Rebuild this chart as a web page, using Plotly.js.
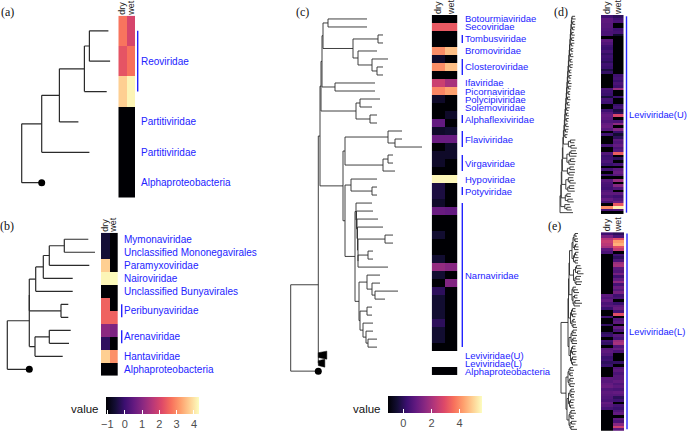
<!DOCTYPE html>
<html>
<head>
<meta charset="utf-8">
<script src="https://cdn.plot.ly/plotly-3.0.1.min.js"></script>
<style>
  html, body { margin: 0; padding: 0; background: #fff; }
  #chart { width: 687px; height: 433px; }
</style>
</head>
<body>
<div id="chart"></div>
<script>
const W = 687, H = 433;

// ---------- data ----------
const conditions = ['dry', 'wet'];

// (a) Reoviridae / Partitiviridae
const treeA = '(((((:19,:20.7):5,:22.3):25,:19):17.7,:47.7):20,o:20);';
const dryA = [2.73, 2.3, 3.75, -1.08, -1.08, -1.08];
const wetA = [2.03, 2.68, 4.18, -1.08, -1.08, -1.08];
const labelsA = [['Reoviridae', 1, 3], ['Partitiviridae', 4, 4], ['Partitiviridae', 5, 5],
  ['Alphaproteobacteria', 6, 6]];

// (b) negative-strand families
const treeB = '(((((((:24,:30.7):15,:40):6,:29.4):7.6,:37):6.4,(:7.3,:7.3):31.7):0,((:21.4,:19.7):14.3,:27.7):5.7):22,o:22);';
const dryB = [-0.54, -0.54, 3.75, 4.2, -1.08, 2.5, 2.5, 1.07, -0.17, 3.75, -1.08];
const wetB = [-1.08, -1.08, -1.08, 4.25, -1.08, -1.08, 2.5, 0.85, -1.08, 3.05, -1.08];
const labelsB = [['Mymonaviridae', 1, 1], ['Unclassified Mononegavirales', 2, 2],
  ['Paramyxoviridae', 3, 3], ['Nairoviridae', 4, 4], ['Unclassified Bunyavirales', 5, 5],
  ['Peribunyaviridae', 6, 7], ['Arenaviridae', 8, 9], ['Hantaviridae', 10, 10],
  ['Alphaproteobacteria', 11, 11]];

// (c) positive-strand families, built from clades (branch lengths)
const cA1 = '(:39,:39)';
const cA2 = '((:5,:5):25,(:19,(:16,(:6,:6):5):14):5)';
const cA3 = '(:40,:40)';
const cA4 = '((:20,:12):4,(:7,:7):14)';
const cFlavi = '(:14,(:7,:27):7)';
const cVirga = '((:5,:5):5,:12)';
const cHypo = '(:26,(:5,:5):21)';
const cNarnaU = '(:16,(:16.5,(:21,(:25.5,((:8,:8):27,((:5,:5):10,:30):0):0.5):0.5):0.5):0.5)';
const cNarnaL = '((:13,(:8,(:23,:10):3):5):8,((:5,:5):7,(:10,(:7,(:9,:9):2):3):3):1)';
const cNarna = '(' + cNarnaU + ':1,' + cNarnaL + ':4)';
const cG = '((' + cFlavi + ':43,' + cVirga + ':38):2,(' + cHypo + ':6,' + cNarna + ':10):2)';
const cVU = '(((' + cA1 + ':5,' + cA2 + ':30):1,' + cA3 + ':13):1,' + cA4 + ':35)';
const treeC = '(((' + cVU + ':1,' + cG + ':23):1.7,*:8.5,*:6.5):27.6,o:27.6);';
const dryC = [-1.1, 3.2, -1.1, -1.1, 4.0, -0.6, 4.0, -1.1, 2.6, 3.9,
  -0.6, -1.1, -1.1, 0.9, -0.6, 1.0, -1.1, -0.6, -0.6, -1.1,
  5.5, -0.3, -0.3, -0.6, 1.0, -1.1, -1.1, -0.5, -1.1, -1.1,
  -0.5, 1.7, -0.5, -1.1, 0.0, -0.5, -0.5, -0.5, 0.0, -0.5,
  -0.5, -1.1, null, null, -1.1];
const wetC = [-1.1, 3.2, -1.1, -1.1, 4.7, -1.1, 4.7, -1.1, 2.0, 4.3,
  -1.1, -1.1, -0.6, -1.1, -0.5, 1.0, -0.6, -0.6, -1.1, -1.1,
  5.5, -1.1, -1.1, -1.1, 0.9, -1.1, -1.1, -1.1, -1.1, -1.1,
  -1.1, 1.5, -1.1, 1.4, -1.1, -1.1, -1.1, -1.1, -1.1, -1.1,
  -1.1, -1.1, null, null, -1.1];
const labelsC = [['Botourmiaviridae', 1, 1], ['Secoviridae', 2, 2], ['Tombusviridae', 3, 4],
  ['Bromoviridae', 5, 5], ['Closteroviridae', 6, 8], ['Ifaviridae', 9, 9],
  ['Picornaviridae', 10, 10], ['Polycipiviridae', 11, 11], ['Solemoviridae', 12, 12],
  ['Alphaflexiviridae', 13, 14], ['Flaviviridae', 15, 17], ['Virgaviridae', 18, 20],
  ['Hypoviridae', 21, 21], ['Potyviridae', 22, 23], ['Narnaviridae', 24, 42],
  ['Leviviridae(U)', 43, 43], ['Leviviridae(L)', 44, 44], ['Alphaproteobacteria', 45, 45]];

// (d) Leviviridae (U): comb of cherries on top, larger clades below
const dTop = [':0.4,(:2,:2.5):1)', ':0.35,(:2.5,:2):1.2)', ':0.4,(:2,:3):0.8)', ':0.3,(:2.5,:2.5):1)',
  ':0.4,(:3,:2):1.1)', ':0.35,(:2,:2):1.3)', ':0.4,(:2.5,:3):0.9)', ':0.3,(:2,:2.5):1)',
  ':0.45,(:3,:2.5):1.2)', ':0.35,(:2,:2):1)', ':0.4,(:2.5,:2):1.1)', ':0.3,(:2,:3):0.9)',
  ':0.4,(:3,:2.5):1)', ':0.35,(:2,:2):1.2)', ':0.4,(:2.5,:3):1)', ':0.3,(:2,:2.5):1.1)',
  ':0.45,(:3,:2):0.9)', ':0.35,(:2,:2.5):1)', ':0.4,(:2.5,:2):1.2)', ':0.3,(:2,:3):1)',
  ':0.4,(:3,:2.5):1.1)', ':0.35,(:2.5,:2):1)'];
const dBottom = [':0.6,((:5,:4):2,(:4,:6):2.5):5)', ':0.5,(((:5,:6):1.5,:7):2.5,((:4,:5):1.5,:6):2):4)',
  ':0.5,((:4,:5):2.5,(:6,:5):1.5):5)', ':0.6,((:5,(:4,:6):1.5):2.5,((:5,:5):1.5,:7):2):4)',
  ':0.5,((:4,:4):1.5,(:5,:6):2.5):4)', ':0.5,(:5,(:4,:5):2):4)', ':0.8,:13)'];
const treeD = '('.repeat(dTop.length + dBottom.length) + '(:3,:3.5)' + dTop.join('') + dBottom.join('') + ';';
const dryD = [0.3, 0.8, 0.8, 0.7, 0.7, 0.6, 0.5, 0.5, -1.1, 0.8,
  0.6, 0.3, 0.2, 0.4, 0.1, 0.3, 0.2, 0.0, 0.3, 0.2,
  -0.3, 0.1, -1.1, -1.1, -1.1, -1.1, -1.1, 0.5, 0.3, 0.2,
  -0.4, 0.4, 0.3, -1.1, -1.1, 0.3, 0.7, 0.9, 0.8, 0.6,
  0.9, 1.0, 0.7, -1.1, 0.3, -1.1, -1.1, -1.1, 0.4, -1.1,
  -1.1, 0.6, 0.2, 0.3, 0.5, 0.2, -1.1, 0.4, -1.1, 0.3,
  -1.1, 0.7, 0.5, 0.4, 0.3, 0.6, 0.8, 0.5, 0.9, 0.4,
  -1.1, 4.0, 0.5, -1.1];
const wetD = [0.0, 0.3, 0.5, -1.1, -1.1, 0.3, 0.4, -0.5, -1.1, -1.1,
  -1.1, -1.1, -1.1, -1.1, -1.1, -1.1, -1.1, -1.1, -1.1, -1.1,
  -1.1, -1.1, 0.3, 0.4, 0.2, 0.5, 0.3, 1.8, -1.1, -1.1,
  0.2, -1.1, -1.1, 0.2, 0.4, -0.3, 0.0, 2.8, -1.1, 0.5,
  1.6, -1.1, 1.4, 0.2, -0.5, 0.0, 0.8, 0.6, 0.9, 0.5,
  0.7, 3.3, -1.1, 0.0, -1.1, 0.4, -1.1, 0.8, 1.0, 0.7,
  -1.1, 1.8, -1.1, 1.5, 0.6, -1.1, 0.8, 0.3, 0.6, 1.0,
  3.2, 5.4, 0.6, -1.1];
const labelsD = [['Leviviridae(U)', 1, 74]];

// (e) Leviviridae (L)
const eU1 = '((((:3,:2):1,(:3,:3):1):1,((:2,:3):1,:4):1.5):1,(((:3,:2):1,:4):1,(:3,:3):1.5):1.5)';
const eU2 = '(((:4,:5):1,(:3,:6):2):2,((:5,:4):1,(:6,:5):1):1.5)';
const eU3 = '((:3,(:4,:5):1):1,((:3,:3):1.5,((:5,:7):1,:6):1):1)';
const eU4 = '(((:3,:3):1,(:4,:3):1):1,((:2,:3):1,(:3,:4):1):1.5)';
const eU5 = '((((:4,:3):1,:5):1,((:3,:4):1,:5):1):2,(((:3,:3):1,(:4,:3):1):1,((:4,:4):1,(:3,:5):1):1):1.5)';
const eL = '((((:3,:4):1,(:3,:3):1):1,((:4,:3):1,(:5,:4):1):1):2,((((:3,:4):1,(:3,:3):1):1.5,((:4,:3):1,(:3,:4):1):1):1.5,(((:4,:5):1,(:3,:3):1):1,((:5,:4):1.5,(:3,:6):1):1):2):1)';
const treeE = '(((((' + eU1 + ':2.5,' + eU2 + ':4):0.5,' + eU3 + ':3):0.5,' + eU4 + ':2):0.5,' + eU5 + ':1):7,' + eL + ':5);';
const dryE = [0.3, 1.2, 2.2, 2.5, 2.3, 2.0, 0.8, 0.5, -1.1, -1.1,
  -1.1, -1.1, -1.1, -1.1, -1.1, -1.1, -1.1, -1.1, -1.1, -1.1,
  -1.1, -1.1, -1.1, 0.8, 0.6, 0.9, 0.5, 0.7, 0.2, -1.1,
  -1.1, 0.3, -1.1, -1.1, 0.1, -1.1, -1.1, 0.0, 0.2, -1.1,
  0.3, 0.1, -1.1, 0.7, 0.8, 0.6, 0.2, 0.3, 0.0, 0.2,
  -1.1, -1.1, -1.1, -1.1, 0.8, 0.7, 0.9, 1.0, 0.6, 0.8,
  0.7, 0.6, 0.5, 0.9, 0.7, 0.4, -1.1, -1.1, -1.1, -1.1,
  -1.1, -1.1, -1.1, -1.1];
const wetE = [0.0, 0.5, 3.0, 4.2, 4.5, 3.0, 2.5, -1.1, 0.3, 0.0,
  0.5, 1.8, 2.0, 0.8, 0.6, 1.2, 0.3, 0.9, 1.6, 0.4,
  1.0, 0.7, 1.2, 0.3, 0.5, -1.1, 0.2, 0.8, 1.0, 0.4,
  3.0, -1.1, 0.6, 0.8, -1.1, 0.9, 0.5, -1.1, 0.7, 0.4,
  1.8, 2.0, 0.6, 1.0, 0.5, -1.1, -1.1, -1.1, 0.1, -1.1,
  0.6, 0.8, 0.5, 0.7, 0.7, 0.9, 0.6, 0.8, 0.5, 0.9,
  0.7, 0.0, 0.3, -1.1, 0.4, 0.2, 0.6, 0.9, -1.1, 0.8,
  0.5, 1.5, 2.6, 0.8];
const labelsE = [['Leviviridae(L)', 1, 74]];

// colour ranges of the two legends
const rangeAB = [-1.08, 4.29];
const rangeCDE = [-1.1, 5.6];
const ticksAB = [-1, 0, 1, 2, 3, 4];
const ticksCDE = [0, 2, 4];

// ---------- styling ----------
const magma = [[0, '#000004'], [0.1, '#140e36'], [0.2, '#3b0f70'], [0.3, '#641a80'],
  [0.4, '#8c2981'], [0.5, '#b73779'], [0.6, '#de4968'], [0.7, '#f7705c'],
  [0.8, '#fe9f6d'], [0.9, '#fecf92'], [1, '#fcfdbf']];
const SANS = 'Liberation Sans, Arial, sans-serif';
const SERIF = 'Liberation Serif, Times New Roman, serif';
const BLUE = '#2323ff';
const TREE = '#2b2b2b';

// ---------- tree helpers ----------
function parseNewick(s) {
  let i = 0;
  function node() {
    const n = { children: [], name: '', len: 0 };
    if (s[i] === '(') {
      i++;
      n.children.push(node());
      while (s[i] === ',') { i++; n.children.push(node()); }
      i++;
    }
    while (i < s.length && !':,);'.includes(s[i])) n.name += s[i++];
    if (s[i] === ':') {
      i++;
      let num = '';
      while (i < s.length && !',);'.includes(s[i])) num += s[i++];
      n.len = parseFloat(num);
    }
    return n;
  }
  return node();
}

function placeTree(root, x0) {
  let tip = 0;
  (function walk(n, x) {
    n.x = x;
    if (!n.children.length) { n.y = ++tip; return; }
    n.children.forEach(c => walk(c, x + c.len));
    n.y = n.children.reduce((s, c) => s + c.y, 0) / n.children.length;
  })(root, x0);
}

function treeTraces(newick, x0, xa, ya, lw) {
  const root = parseNewick(newick.replace(/\s/g, ''));
  placeTree(root, x0);
  const lx = [], ly = [], tx = [], ty = [], dx = [], dy = [];
  (function walk(n) {
    n.children.forEach(c => {
      if (c.name === '*') {
        // collapsed clade: small filled block
        tx.push(n.x, c.x, c.x, n.x, n.x, null);
        ty.push(c.y - 0.3, c.y - 0.5, c.y + 0.5, c.y + 0.3, c.y - 0.3, null);
      } else {
        lx.push(n.x, c.x, null); ly.push(c.y, c.y, null);
      }
      if (c.name === 'o') { dx.push(c.x); dy.push(c.y); }
      walk(c);
    });
    if (n.children.length) {
      const ys = n.children.map(c => c.y);
      lx.push(n.x, n.x, null); ly.push(Math.min(...ys), Math.max(...ys), null);
    }
  })(root);
  const out = [{ x: lx, y: ly, xaxis: xa, yaxis: ya, type: 'scatter', mode: 'lines',
    line: { color: TREE, width: lw }, hoverinfo: 'skip' }];
  if (tx.length) out.push({ x: tx, y: ty, xaxis: xa, yaxis: ya, type: 'scatter', mode: 'lines',
    fill: 'toself', fillcolor: '#000', line: { color: '#000', width: 0.5 }, hoverinfo: 'skip' });
  if (dx.length) out.push({ x: dx, y: dy, xaxis: xa, yaxis: ya, type: 'scatter', mode: 'markers',
    marker: { color: '#000', size: 7 }, hoverinfo: 'skip' });
  return out;
}

// ---------- panels ----------
const cbBase = {
  orientation: 'h', xanchor: 'left', yanchor: 'top', lenmode: 'pixels', thickness: 17,
  xpad: 0, ypad: 0, outlinewidth: 0, ticks: 'inside', ticklen: 4, tickcolor: '#fff',
  tickfont: { family: SANS, size: 11, color: '#4d4d4d' }, title: { text: '' }
};
const cbAB = Object.assign({}, cbBase, { x: 106 / W, y: 1 - 396.5 / H, len: 93,
  tickvals: ticksAB, ticktext: ticksAB.map(v => String(v).replace('-', '\u2212')) });
const cbCDE = Object.assign({}, cbBase, { x: 388 / W, y: 1 - 396 / H, len: 94,
  tickvals: ticksCDE, ticktext: ticksCDE.map(String) });

const panels = [
  { tree: treeA, root: 21.7, dry: dryA, wet: wetA, labels: labelsA, range: rangeAB, fs: 10,
    treePx: [0, 116], heatPx: [118.3, 135], rowPx: [15.7, 198.3], barPx: 137.7, textPx: 139.5, lw: 1.2 },
  { tree: treeB, root: 7.3, dry: dryB, wet: wetB, labels: labelsB, range: rangeAB, cb: cbAB, fs: 10,
    treePx: [0, 99], heatPx: [101, 117.7], rowPx: [233.3, 376.7], barPx: 121.7, textPx: 123.3, lw: 1.2 },
  { tree: treeC, root: 290.7, dry: dryC, wet: wetC, labels: labelsC, range: rangeCDE, cb: cbCDE, fs: 9.5,
    treePx: [285, 430], heatPx: [431.7, 457.3], rowPx: [15, 376], barPx: 462.3, textPx: 464.3, lw: 0.9 },
  { tree: treeD, root: 560, dry: dryD, wet: wetD, labels: labelsD, range: rangeCDE, fs: 9.4,
    treePx: [550, 598], heatPx: [601, 623.5], rowPx: [15, 214.5], barPx: 626.5, textPx: 627.5, lw: 0.9 },
  { tree: treeE, root: 561, dry: dryE, wet: wetE, labels: labelsE, range: rangeCDE, fs: 9.4,
    treePx: [550, 598], heatPx: [601, 624], rowPx: [232.7, 431.7], barPx: 627, textPx: 628, lw: 0.9 }
];

const traces = [], annotations = [], shapes = [];
const layout = {
  width: W, height: H, margin: { l: 0, r: 0, t: 0, b: 0 },
  paper_bgcolor: '#fff', plot_bgcolor: 'rgba(0,0,0,0)', showlegend: false,
  annotations, shapes
};
const axId = (p, i) => (i === 1 ? p : p + i);
const axKey = (p, i) => (i === 1 ? p + 'axis' : p + 'axis' + i);

panels.forEach((p, k) => {
  const tx = axId('x', 2 * k + 1), hx = axId('x', 2 * k + 2), ya = axId('y', k + 1);
  const n = p.dry.length;
  layout[axKey('y', k + 1)] = { domain: [1 - p.rowPx[1] / H, 1 - p.rowPx[0] / H],
    range: [n + 0.5, 0.5], visible: false, anchor: tx };
  layout[axKey('x', 2 * k + 1)] = { domain: [p.treePx[0] / W, p.treePx[1] / W],
    range: p.treePx, visible: false, anchor: ya };
  layout[axKey('x', 2 * k + 2)] = { domain: [p.heatPx[0] / W, p.heatPx[1] / W],
    type: 'category', side: 'top', tickangle: -90, ticks: '', showline: false,
    tickmode: 'array', tickvals: conditions, ticktext: conditions,
    showgrid: false, zeroline: false, anchor: ya,
    tickfont: { family: SANS, size: 9, color: '#222' } };

  traces.push(...treeTraces(p.tree, p.root, tx, ya, p.lw));
  traces.push({
    type: 'heatmap', x: conditions, y: p.dry.map((_, i) => i + 1),
    z: p.dry.map((d, i) => [d, p.wet[i]]), xaxis: hx, yaxis: ya,
    zmin: p.range[0], zmax: p.range[1], colorscale: magma,
    showscale: !!p.cb, colorbar: p.cb, hoverinfo: 'skip'
  });

  p.labels.forEach(([name, r0, r1]) => {
    annotations.push({ text: name, xref: 'paper', yref: ya, x: p.textPx / W, y: (r0 + r1) / 2,
      xanchor: 'left', yanchor: 'middle', showarrow: false, borderpad: 0,
      font: { family: SANS, size: p.fs, color: BLUE } });
    if (r1 > r0) shapes.push({ type: 'line', xref: 'paper', yref: ya,
      x0: p.barPx / W, x1: p.barPx / W, y0: r0, y1: r1, line: { color: BLUE, width: 1.4 } });
  });
});

// panel letters and legend titles
[['(a)', 7, 12], ['(b)', 7, 227], ['(c)', 302.5, 12], ['(d)', 560.5, 12], ['(e)', 554.5, 227]]
  .forEach(([t, x, y]) => annotations.push({ text: t, xref: 'paper', yref: 'paper',
    x: x / W, y: 1 - y / H, xanchor: 'center', yanchor: 'middle', showarrow: false,
    font: { family: SERIF, size: 12, color: '#111' } }));
[[85, 410], [366.5, 410]].forEach(([x, y]) => annotations.push({ text: 'value',
  xref: 'paper', yref: 'paper', x: x / W, y: 1 - y / H, xanchor: 'center', yanchor: 'middle',
  showarrow: false, font: { family: SANS, size: 11.5, color: '#111' } }));

Plotly.newPlot('chart', traces, layout, { displayModeBar: false, staticPlot: true });
</script>
</body>
</html>
